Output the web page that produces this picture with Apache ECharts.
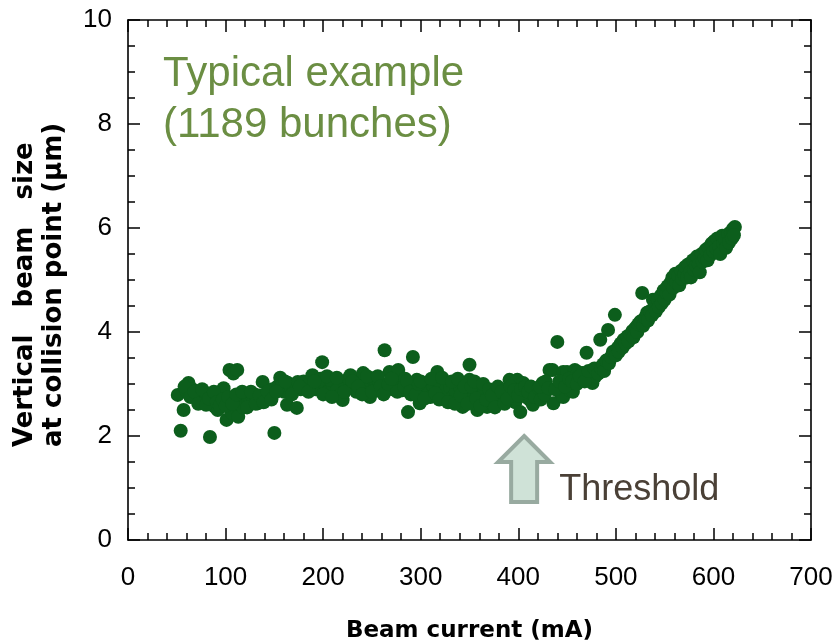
<!DOCTYPE html>
<html>
<head>
<meta charset="utf-8">
<script src="https://cdn.jsdelivr.net/npm/echarts@6/dist/echarts.min.js"></script>
<style>
  html, body { margin: 0; padding: 0; background: #fff; }
  #chart { width: 834px; height: 644px; }
</style>
</head>
<body>
<div id="chart"></div>
<script>
// Beam current (mA) of each measurement
const current = [
  51, 54, 57, 60, 62, 66, 70, 74, 78, 81, 84, 86, 89, 92, 95, 98, 101, 104, 106, 108,
  110, 112, 113, 115, 118, 120, 123, 125, 128, 130, 133, 136, 138, 141, 144, 146, 148, 150, 153, 156,
  158, 160, 163, 164, 167, 170, 173, 174, 177, 180, 183, 186, 189, 192, 194, 197, 199, 202, 205, 207,
  210, 212, 207, 215, 218, 220, 223, 226, 228, 231, 234, 237, 241, 244, 246, 248, 251, 254, 257, 260,
  263, 265, 268, 271, 274, 277, 279, 281, 284, 287, 290, 292, 294, 296, 299, 302, 305, 308, 310, 313,
  317, 320, 323, 326, 330, 333, 336, 340, 343, 343, 346, 350, 350, 353, 356, 358, 359, 362, 365, 368,
  371, 374, 378, 381, 384, 387, 391, 394, 397, 399, 402, 405, 408, 412, 415, 419, 425, 429, 432, 435,
  436, 440, 443, 446, 446, 450, 453, 456, 458, 461, 466, 466, 470, 473, 476, 476, 479, 481,
  58, 64, 68, 72, 76, 80, 83, 88, 91, 94, 97, 100, 103, 107, 111, 117, 122, 126, 131, 135,
  139, 143, 147, 152, 161, 168, 176, 185, 191, 200, 204, 209, 214, 222, 230, 236, 240, 245, 250, 256,
  259, 262, 267, 270, 276, 283, 286, 289, 295, 298, 300, 304, 311, 315, 319, 322, 328, 332, 335, 338,
  341, 345, 348, 352, 355, 357, 361, 364, 367, 370, 373, 376, 379, 383, 386, 389, 392, 396, 400, 403,
  407, 410, 413, 417, 421, 423, 427, 422, 428, 431, 438, 442, 448, 452, 455, 460, 463, 468, 472, 478,
  482, 484, 485, 487, 488, 490, 492, 493, 495, 497, 499, 500, 502, 503, 505, 507, 508, 510, 512, 513,
  515, 517, 518, 520, 522, 523, 525, 527, 528, 530, 532, 533, 535, 537, 538, 540,
  541, 543, 544, 546, 547, 549, 550, 552, 553, 555, 556, 558, 559, 561, 562, 564, 565, 567, 568, 570,
  571, 573, 574, 576, 577, 579, 580, 582, 583, 585, 586, 588, 589, 591, 592, 594, 595, 597, 598, 600,
  601, 603, 604, 606, 607, 609, 610, 612, 613, 615, 616, 618, 619, 620, 622, 621
];
// Vertical beam size at the collision point (µm)
const beamSize = [
  2.79, 2.10, 2.50, 2.85, 3.02, 2.90, 2.73, 2.80, 2.70, 2.75, 1.98, 2.65, 2.56, 2.50, 2.78, 2.92, 2.31, 3.27, 2.45, 3.20,
  2.60, 3.27, 2.37, 2.69, 2.55, 2.75, 2.65, 2.69, 2.72, 2.80, 2.63, 2.70, 3.04, 2.75, 2.82, 2.73, 2.90, 2.06, 2.95, 3.12,
  2.98, 2.85, 2.60, 3.02, 2.92, 2.98, 2.54, 3.04, 2.90, 3.05, 2.94, 3.00, 3.17, 2.90, 3.04, 3.10, 3.42, 3.00, 2.85, 2.88,
  2.95, 3.04, 3.08, 2.90, 2.80, 2.69, 3.00, 3.10, 3.17, 2.95, 2.85, 3.05, 3.21, 3.00, 2.90, 2.75, 3.10, 2.95, 3.05, 2.85,
  3.65, 3.00, 3.23, 2.90, 3.05, 3.27, 2.95, 2.88, 3.10, 2.46, 2.80, 3.52, 2.95, 3.08, 2.63, 2.85, 3.00, 2.90, 2.75, 2.95,
  3.23, 3.02, 2.80, 2.90, 2.94, 2.75, 2.85, 2.95, 3.02, 2.56, 2.70, 3.37, 3.08, 2.80, 2.65, 2.50, 2.94, 2.75, 2.85, 2.56,
  2.75, 2.60, 2.83, 2.70, 2.69, 2.90, 3.08, 2.80, 2.65, 3.08, 2.46, 3.02, 2.75, 2.69, 2.60, 2.83, 3.02, 2.88, 3.27, 3.27,
  2.63, 3.81, 2.83, 3.23, 2.75, 3.23, 2.88, 2.85, 3.27, 3.23, 3.21, 3.13, 3.60, 3.10, 3.08, 3.02, 3.15, 3.21,
  2.95, 2.75, 2.85, 2.62, 2.90, 2.60, 2.72, 2.85, 2.65, 2.58, 2.70, 2.58, 2.75, 2.62, 2.80, 2.85, 2.55, 2.85, 2.62, 2.78,
  2.65, 2.85, 2.70, 2.85, 3.05, 2.80, 2.95, 2.85, 3.05, 2.80, 3.15, 2.75, 3.12, 2.85, 3.05, 2.95, 2.80, 3.15, 2.85, 3.15,
  2.95, 2.80, 3.00, 3.10, 2.85, 2.95, 3.05, 2.85, 2.80, 3.00, 3.05, 2.72, 3.10, 2.82, 2.70, 3.12, 2.65, 3.05, 2.62, 3.10,
  2.78, 2.95, 2.62, 2.95, 3.05, 2.72, 2.58, 3.00, 2.70, 2.90, 2.78, 2.55, 2.95, 2.85, 2.62, 2.72, 2.95, 2.88, 2.78, 2.90,
  2.95, 2.85, 2.95, 2.75, 2.92, 2.70, 2.80, 2.95, 3.05, 2.92, 2.90, 3.05, 2.95, 3.10, 3.05, 3.00, 3.15, 3.05, 3.25, 3.30,
  3.20, 3.85, 3.30, 3.38, 3.25, 3.45, 4.04, 3.40, 3.52, 3.62, 4.33, 3.55, 3.70, 3.62, 3.78, 3.70, 3.85, 3.78, 3.92, 3.82,
  3.95, 4.02, 3.90, 4.08, 4.00, 4.15, 4.20, 4.75, 4.12, 4.28, 4.37, 4.22, 4.40, 4.32, 4.62, 4.50,
  4.40, 4.62, 4.48, 4.70, 4.55, 4.80, 4.62, 4.75, 4.88, 4.72, 4.95, 5.05, 4.85, 5.12, 4.95, 5.08, 4.90, 5.18, 5.02, 5.10,
  5.25, 5.05, 5.30, 5.15, 5.05, 5.38, 5.20, 5.28, 5.45, 5.30, 5.15, 5.50, 5.35, 5.42, 5.58, 5.38, 5.62, 5.48, 5.70, 5.55,
  5.75, 5.60, 5.80, 5.65, 5.50, 5.85, 5.70, 5.78, 5.62, 5.88, 5.72, 5.92, 5.80, 5.98, 6.02, 5.86
];
// Tick marks for the axes
const xTicks = { min: 0, max: 700, step: 100 };
const yTicks = { min: 0, max: 10, step: 2 };
// Onset of the beam-size blow-up (mA) and where the arrow tip sits (µm)
const thresholdCurrent = 406;
const thresholdTipSize = 2.0;

const points = current.map((c, i) => [c, beamSize[i]]);

const chart = echarts.init(document.getElementById('chart'), null, { renderer: 'canvas' });

const black = '#000';
const labelFont = "'Liberation Sans', Arial, sans-serif";
const titleFont = "'DejaVu Sans', 'Liberation Sans', Arial, sans-serif";

function frameAxis(isX, pos, showLabels) {
  const t = isX ? xTicks : yTicks;
  return {
    type: 'value',
    position: pos,
    min: t.min,
    max: t.max,
    interval: t.step,
    splitLine: { show: false },
    axisLine: { show: true, onZero: false, lineStyle: { color: black, width: 1.6 } },
    axisTick: { show: true, inside: true, length: 12, lineStyle: { color: black, width: 1.5 } },
    minorTick: { show: true, splitNumber: isX ? 5 : 4, length: 7, lineStyle: { color: black, width: 1.5 } },
    axisLabel: {
      show: showLabels,
      color: black,
      fontFamily: labelFont,
      fontSize: 26,
      margin: isX ? 25 : 16
    }
  };
}

const xBottom = Object.assign(frameAxis(true, 'bottom', true), {
  name: 'Beam current (mA)',
  nameLocation: 'middle',
  nameGap: 80,
  nameTextStyle: { color: black, fontFamily: titleFont, fontWeight: 'bold', fontSize: 23 }
});

chart.setOption({
  animation: false,
  backgroundColor: '#fff',
  grid: { left: 128, right: 23, top: 20, bottom: 104, containLabel: false, outerBoundsMode: 'none' },
  xAxis: [xBottom, frameAxis(true, 'top', false)],
  yAxis: [frameAxis(false, 'left', true), frameAxis(false, 'right', false)],
  series: [{
    type: 'scatter',
    xAxisIndex: 0,
    yAxisIndex: 0,
    data: points,
    symbol: 'circle',
    symbolSize: 14,
    itemStyle: { color: '#0c5e1c', opacity: 1 }
  }]
});

// Y title (both lines start at the same height), caption and threshold arrow;
// the arrow is anchored at the threshold current
const origin = chart.convertToPixel({ xAxisIndex: 0, yAxisIndex: 0 }, [0, 0]);
const tip = chart.convertToPixel({ xAxisIndex: 0, yAxisIndex: 0 }, [thresholdCurrent, thresholdTipSize]);
const tx = tip[0], ty = tip[1];
chart.setOption({
  graphic: [{
    type: 'text',
    x: origin[0] - 88,
    y: origin[1] - 93,
    rotation: Math.PI / 2,
    style: {
      text: 'Vertical   beam   size\nat collision point (µm)',
      fill: black,
      font: "bold 26px 'DejaVu Sans', 'Liberation Sans', Arial, sans-serif",
      lineHeight: 29,
      textAlign: 'left',
      textVerticalAlign: 'middle'
    }
  }, {
    type: 'text',
    left: 163,
    top: 49,
    style: {
      text: 'Typical example\n(1189 bunches)',
      fill: '#6b8e43',
      font: "42px 'Liberation Sans', Arial, sans-serif",
      lineHeight: 51
    }
  }, {
    type: 'polygon',
    shape: {
      points: [
        [tx, ty],
        [tx + 26, ty + 26],
        [tx + 13, ty + 26],
        [tx + 13, ty + 66],
        [tx - 13, ty + 66],
        [tx - 13, ty + 26],
        [tx - 26, ty + 26]
      ]
    },
    style: { fill: '#cfe2d7', stroke: '#98aaa0', lineWidth: 4, lineJoin: 'miter' }
  }, {
    type: 'text',
    x: tx + 35,
    y: ty + 36,
    style: {
      text: 'Threshold',
      fill: '#4a4036',
      font: "36px 'Liberation Sans', Arial, sans-serif",
      textVerticalAlign: 'top'
    }
  }]
});
</script>
</body>
</html>
